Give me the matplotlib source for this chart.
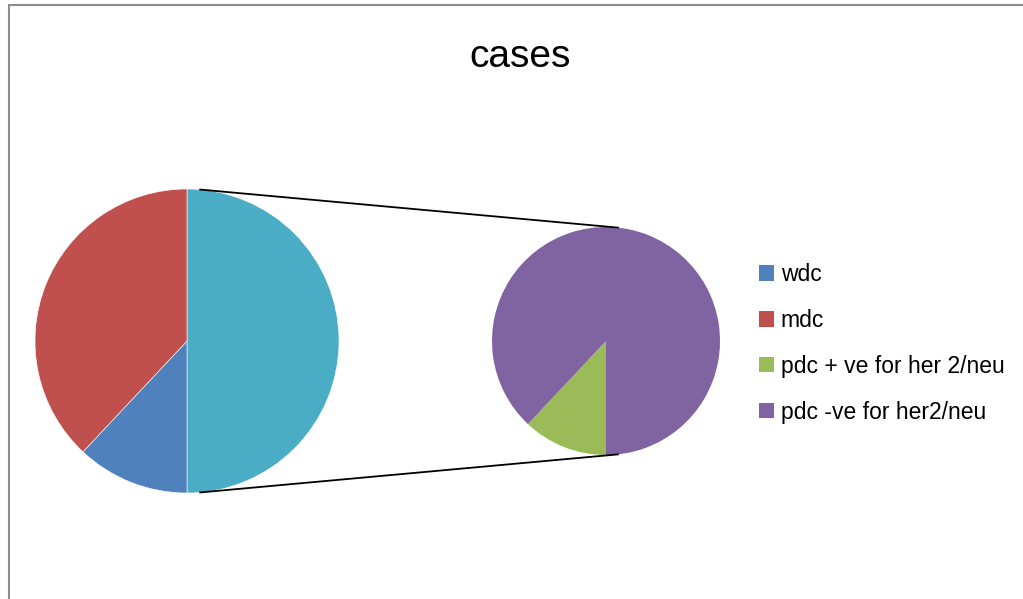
import numpy as np
import matplotlib
matplotlib.use("Agg")
import matplotlib.pyplot as plt
from matplotlib.patches import Patch, Rectangle

plt.rcParams['font.family'] = ['Liberation Sans', 'DejaVu Sans']

# Case counts by tumour grade
categories = ["wdc", "mdc", "pdc + ve for her 2/neu", "pdc -ve for her2/neu"]
values = [12, 38, 6, 44]
colors = ["#4F81BD", "#C0504D", "#9BBB59", "#8064A2"]
other_color = "#4BACC6"
title = "cases"

W, H = 1023, 599
fig = plt.figure(figsize=(W / 100, H / 100), dpi=100)
ax = fig.add_axes([0, 0, 1, 1])

# chart frame
ax.add_patch(Rectangle((8.5, -10), W + 20, H - 4.5 + 10, fill=False,
                       edgecolor="#8c8c8c", linewidth=1.5))

# main pie: wdc, mdc and the grouped pdc slice
main_c, main_r = (187, H - 341), 152
other_total = sum(values[2:])
ax.pie([other_total, values[0], values[1]],
       colors=[other_color, colors[0], colors[1]],
       startangle=90, counterclock=False,
       center=main_c, radius=main_r,
       wedgeprops=dict(edgecolor="white", linewidth=0.4), frame=True)

# secondary pie: split of the grouped slice
sec_c, sec_r = (606, H - 341), 114
ax.pie(values[2:], colors=colors[2:],
       startangle=270, counterclock=False,
       center=sec_c, radius=sec_r,
       wedgeprops=dict(edgecolor="none", linewidth=0), frame=True)
ax.set_xlim(0, W)
ax.set_ylim(0, H)
ax.set_aspect('equal')
ax.axis('off')

# connector lines between the two pies
for a_main, a_sec in [(85, 84), (-85, -84)]:
    p0 = (main_c[0] + main_r * np.cos(np.radians(a_main)),
          main_c[1] + main_r * np.sin(np.radians(a_main)))
    p1 = (sec_c[0] + sec_r * np.cos(np.radians(a_sec)),
          sec_c[1] + sec_r * np.sin(np.radians(a_sec)))
    ax.plot([p0[0], p1[0]], [p0[1], p1[1]], color="black", linewidth=1.3)

ax.text(520, H - 67, title, ha='center', va='baseline', fontsize=28)

handles = [Patch(facecolor=c, edgecolor='none') for c in colors]
ax.legend(handles, categories, loc='upper left',
          bbox_to_anchor=(759 / W, 1 - 263 / H), frameon=False,
          fontsize=16.5, handlelength=0.65, handleheight=0.65,
          handletextpad=0.3, labelspacing=1.0, borderaxespad=0,
          borderpad=0)

fig.savefig("out.png", dpi=100)
